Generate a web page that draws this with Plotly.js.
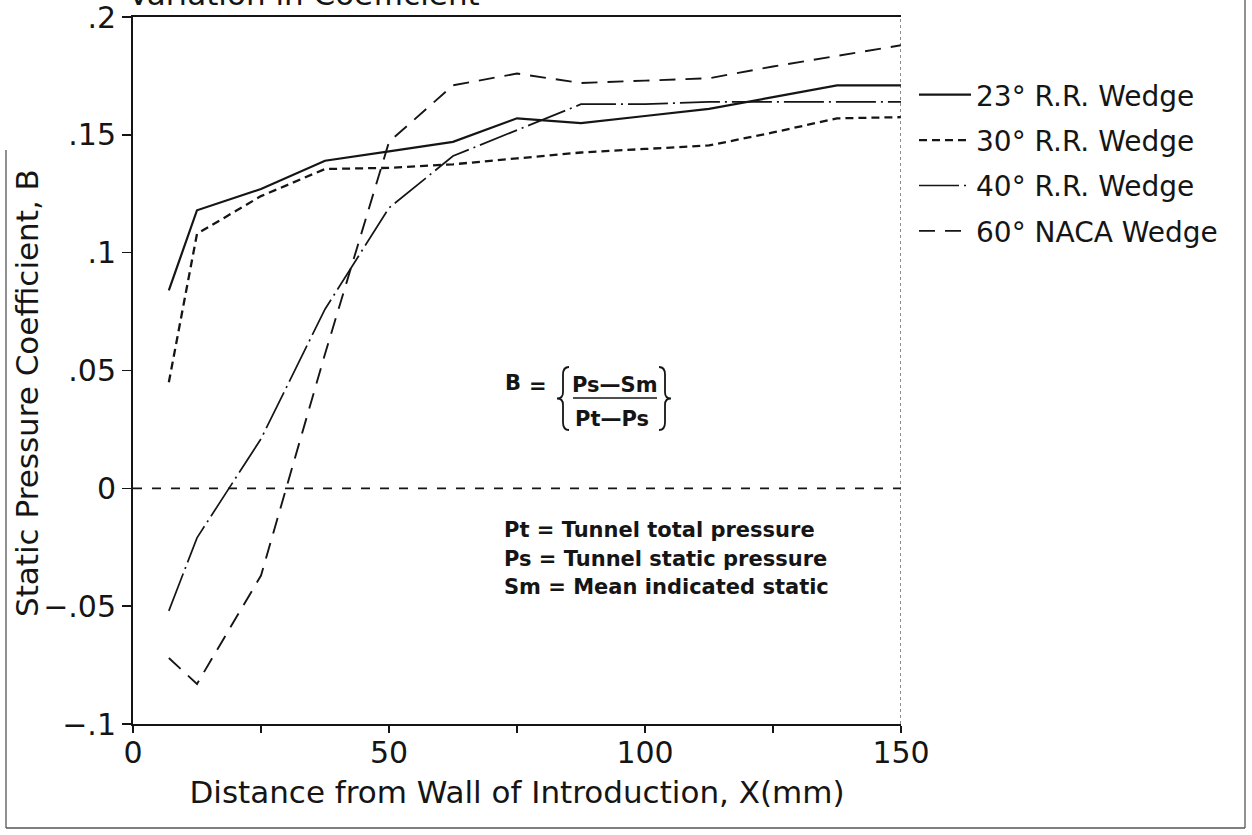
<!DOCTYPE html>
<html>
<head>
<meta charset="utf-8">
<script src="https://cdn.plot.ly/plotly-3.0.1.min.js"></script>
<style>html,body{margin:0;padding:0;background:#fff;}#chart{width:1252px;height:835px;}</style>
</head>
<body>
<div id="chart"></div>
<script>
// ---- data ----
const distanceMm = [7, 12.5, 25, 37.5, 50, 62.5, 75, 87.5, 100, 112.5, 125, 137.5, 150];
const wedge23RR = [0.084, 0.118, 0.127, 0.139, 0.143, 0.147, 0.157, 0.155, 0.158, 0.161, 0.166, 0.171, 0.171];
const wedge30RR = [0.045, 0.108, 0.124, 0.1355, 0.136, 0.1375, 0.140, 0.1425, 0.144, 0.1455, 0.151, 0.157, 0.1575];
const wedge40RR = [-0.052, -0.021, 0.021, 0.076, 0.119, 0.141, 0.152, 0.163, 0.163, 0.164, 0.164, 0.164, 0.164];
const wedge60NACA = [-0.072, -0.083, -0.037, 0.057, 0.147, 0.171, 0.176, 0.172, 0.173, 0.174, 0.179, 0.1835, 0.188];
const seriesNames = ["23° R.R. Wedge", "30° R.R. Wedge", "40° R.R. Wedge", "60° NACA Wedge"];
const xTickVals = [0, 25, 50, 75, 100, 125, 150];
const xTickText = ["0", "", "50", "", "100", "", "150"];
const yTickVals = [-0.1, -0.05, 0, 0.05, 0.1, 0.15, 0.2];
const yTickText = ["\u2212.1", "\u2212.05", "0", ".05", ".1", ".15", ".2"];

// ---- layout helpers (pixel -> paper) ----
const W = 1252, H = 835, L = 133, R = 901, T = 17, B = 724;
const px = x => (x - L) / (R - L);
const py = y => (B - y) / (B - T);
const FONT = "DejaVu Sans, Liberation Sans, sans-serif";
const INK = "#151515";

const styles = [
  {dash: "solid", width: 2.2},
  {dash: "8px,5px", width: 2.3},
  {dash: "40px,5px,2px,5px", width: 1.7},
  {dash: "16px,10px", width: 1.9}
];
const ys = [wedge23RR, wedge30RR, wedge40RR, wedge60NACA];
const traces = ys.map((y, i) => ({
  type: "scatter", mode: "lines", x: distanceMm, y: y, name: seriesNames[i],
  legendgroup: "g" + i,
  line: {color: INK, width: styles[i].width, dash: styles[i].dash, shape: "linear"},
  hoverinfo: "x+y"
}));

const ann = (x, y, text, size, extra) => Object.assign({
  xref: "paper", yref: "paper", x: px(x), y: py(y), text: text, showarrow: false,
  font: {family: FONT, size: size, color: INK}, xanchor: "left", yanchor: "middle"
}, extra || {});
const bold = size => ({font: {family: FONT, size: size, color: INK, weight: "bold"}});

// thin curly brace drawn as a path (pixel geometry converted to paper units)
function brace(xTip, xBack, y0, y1) {
  const ym = (y0 + y1) / 2, h = y1 - y0, xm = (xTip + xBack) / 2;
  const P = (x, y) => px(x).toFixed(5) + "," + py(y).toFixed(5);
  return "M" + P(xBack, y0) + " Q" + P(xm, y0) + " " + P(xm, y0 + 0.12 * h) +
         " L" + P(xm, ym - 0.1 * h) + " Q" + P(xm, ym) + " " + P(xTip, ym) +
         " Q" + P(xm, ym) + " " + P(xm, ym + 0.1 * h) +
         " L" + P(xm, y1 - 0.12 * h) + " Q" + P(xm, y1) + " " + P(xBack, y1);
}

const layout = {
  width: W, height: H,
  margin: {l: L, r: W - R, t: T, b: H - B, pad: 0},
  paper_bgcolor: "#fff", plot_bgcolor: "#fff",
  showlegend: true,
  legend: {
    x: px(914), y: py(70), xanchor: "left", yanchor: "top",
    font: {family: FONT, size: 28, color: INK},
    itemwidth: 52,
    traceorder: "grouped", tracegroupgap: 6, bgcolor: "rgba(0,0,0,0)", borderwidth: 0
  },
  xaxis: {
    range: [0, 150], tickmode: "array", tickvals: xTickVals, ticktext: xTickText,
    ticks: "outside", ticklen: 7, tickwidth: 1.5, tickcolor: INK,
    showline: true, linewidth: 2, linecolor: INK, mirror: true,
    showgrid: false, zeroline: false, ticklabeloverflow: "allow",
    ticklabelstandoff: -6,
    tickfont: {family: FONT, size: 30, color: INK},
    title: {text: "Distance from Wall of Introduction, X(mm)", standoff: 12,
            font: {family: FONT, size: 31, color: INK}},
    automargin: false
  },
  yaxis: {
    range: [-0.1, 0.2], tickmode: "array", tickvals: yTickVals, ticktext: yTickText,
    ticks: "outside", ticklen: 9, tickwidth: 1.5, tickcolor: INK,
    showline: true, linewidth: 2, linecolor: INK, mirror: false,
    showgrid: false, zeroline: false, ticklabeloverflow: "allow",
    tickfont: {family: FONT, size: 30, color: INK},
    automargin: false
  },
  shapes: [
    // zero reference line
    {type: "line", xref: "x", yref: "y", x0: 0, x1: 150, y0: 0, y1: 0,
     line: {color: INK, width: 1.8, dash: "9px,10px"}},
    // dotted right frame of plot
    {type: "line", xref: "x", yref: "paper", x0: 150, x1: 150, y0: 0, y1: 1,
     line: {color: "#444", width: 1.2, dash: "dot"}},
    // fraction bar and braces of the formula
    {type: "line", xref: "paper", yref: "paper", x0: px(573), x1: px(657), y0: py(398), y1: py(398),
     line: {color: INK, width: 1.6}},
    {type: "path", xref: "paper", yref: "paper", path: brace(557, 569, 367, 430),
     line: {color: INK, width: 1.8}},
    {type: "path", xref: "paper", yref: "paper", path: brace(671, 659, 367, 430),
     line: {color: INK, width: 1.8}},
    // scanned page frame
    {type: "line", xref: "paper", yref: "paper", x0: px(6), x1: px(6), y0: py(150), y1: py(828),
     line: {color: "#555", width: 1.3}},
    {type: "line", xref: "paper", yref: "paper", x0: px(6), x1: px(1245), y0: py(828), y1: py(828),
     line: {color: "#555", width: 1.3}},
    {type: "line", xref: "paper", yref: "paper", x0: px(1245), x1: px(1245), y0: py(0), y1: py(828),
     line: {color: "#555", width: 1.3}}
  ],
  annotations: [
    ann(126, -6, "Variation in Coefficient", 31),
    ann(27, 393, "Static Pressure Coefficient, B", 31, {xanchor: "center", textangle: -90}),
    ann(503, 383, "B", 21, bold(21)),
    ann(527, 386, "=", 21, bold(21)),
    ann(615, 385, "Ps\u2014Sm", 21, Object.assign({xanchor: "center"}, bold(21))),
    ann(612, 419, "Pt\u2014Ps", 21, Object.assign({xanchor: "center"}, bold(21))),
    ann(502, 530, "Pt = Tunnel total pressure", 21, bold(21)),
    ann(502, 559, "Ps = Tunnel static pressure", 21, bold(21)),
    ann(502, 587, "Sm = Mean indicated static", 21, bold(21))
  ]
};

Plotly.newPlot("chart", traces, layout, {displayModeBar: false, staticPlot: true});
</script>
</body>
</html>
